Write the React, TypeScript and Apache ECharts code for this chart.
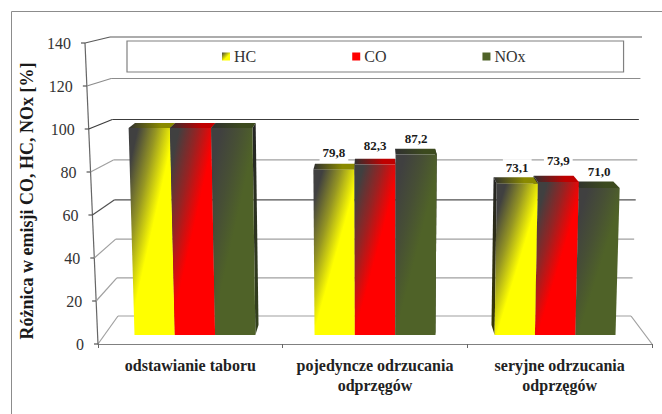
import React, { useEffect, useRef } from "react";
import * as echarts from "echarts";

const categories = ["odstawianie taboru", "pojedyncze odrzucania\nodprzęgów", "seryjne odrzucania\nodprzęgów"];
const seriesNames = ["HC", "CO", "NOx"];
const hcValues = [100, 79.8, 73.1];
const coValues = [100, 82.3, 73.9];
const noxValues = [100, 87.2, 71.0];
const yTicks = [0, 20, 40, 60, 80, 100, 120, 140];
const labelledCategories = [1, 2];

// styling and layout only
const faceColors = ["#ffff00", "#ff0000", "#4f6228"];
const midColors = ["#969623", "#962323", "#474f35"];
const topColors = ["#8a8a00", "#c00000", "#3c4a1e"];
const sideColors = ["#3a3a00", "#5a0000", "#34421c"];
const wallColors: Record<number, string> = { 0: "#a0a0a0", 20: "#a0a0a0", 40: "#a0a0a0", 60: "#505050", 80: "#a0a0a0", 100: "#3c3c3c", 120: "#8c8c8c", 140: "#5a5a5a" };
const labelLift = [[0, 0, 0], [17, 19, 16], [16, 21, 16]];
const font = "'Liberation Serif', 'Times New Roman', serif";

const gridLeft = 98, gridRight = 652, barW = 40.3;
const vc = (gridLeft + gridRight) / 2;

const barSeries = (i: number, values: number[]) => ({
  type: "custom",
  name: seriesNames[i],
  coordinateSystem: "cartesian2d",
  clip: false,
  data: values.map((v, c) => [c, v]),
  encode: { x: 0, y: 1 },
  renderItem: (_p: any, api: any) => {
    const c = api.value(0), v = api.value(1);
    const [cx, y0] = api.coord([c, 0]);
    const unit = api.size([0, 1])[1];
    const yF0 = y0 - 9, yFT = yF0 - v * unit * 0.963;
    const yB0 = y0 - 19, yBT = yB0 - v * unit * 0.94;
    const base = vc + (cx - vc) * 0.975 + (i - 1.5) * barW;
    const fx = (xb: number, y: number) => vc + (xb - vc) * (1 + 0.000118 * (yF0 - y));
    const bx = (x: number) => x + (vc - x) * 0.026;
    const l = base, r = base + barW;
    const lb = fx(l, yF0), rb = fx(r, yF0), lt = fx(l, yFT), rt = fx(r, yFT);
    // pixel-space diagonal gradient: dark at the top-left, full colour towards the right and bottom
    const a = 1 / (1.15 * barW), b = 1.0 / (yF0 - yFT);
    const n = a * a + b * b;
    const face = new echarts.graphic.LinearGradient(lt, yFT, lt + a / n, yFT + b / n, [
      { offset: 0, color: "#404040" }, { offset: 0.2, color: "#404040" },
      { offset: 0.6, color: midColors[i] }, { offset: 1, color: faceColors[i] },
    ], true);
    const top = new echarts.graphic.LinearGradient(0, 0, 1, 0, [
      { offset: 0, color: "#303030" }, { offset: 0.7, color: topColors[i] }, { offset: 1, color: topColors[i] },
    ]);
    const rank = c === 2 ? 2 - i : i;
    const z2 = 10 + rank * 2;
    const children: any[] = [];
    const sideOn = c === 2 ? "l" : "r";
    const sX = sideOn === "r" ? [rb, rt] : [lb, lt];
    children.push({
      type: "polygon", z2,
      shape: { points: [[sX[0], yF0], [sX[1], yFT], [bx(sX[1]), yBT], [bx(sX[0]), yB0]] },
      style: { fill: new echarts.graphic.LinearGradient(0, 0, 0, 1, [{ offset: 0, color: "#242424" }, { offset: 1, color: sideColors[i] }]) },
    });
    children.push({
      type: "polygon", z2,
      shape: { points: [[lt, yFT], [rt, yFT], [bx(rt), yBT], [bx(lt), yBT]] },
      style: { fill: top },
    });
    children.push({
      type: "polygon", z2: z2 + 1,
      shape: { points: [[lb, yF0], [rb, yF0], [rt, yFT], [lt, yFT]] },
      style: { fill: face },
    });
    if (labelledCategories.includes(c)) {
      children.push({
        type: "text", z2: 40,
        style: {
          text: v.toFixed(1).replace(".", ","),
          x: (lt + rt) / 2, y: yFT - labelLift[c][i],
          align: "center", verticalAlign: "middle",
          font: `bold 13px ${font}`, fill: "#1a1a1a",
          backgroundColor: "#fff", padding: [2, 3],
        },
      });
    }
    return { type: "group", children };
  },
});

const wallSeries = {
  type: "custom",
  silent: true,
  clip: false,
  coordinateSystem: "cartesian2d",
  data: yTicks.map((t) => [0, t]),
  encode: { x: 0, y: 1 },
  renderItem: (_p: any, api: any) => {
    const t = api.value(1);
    const y = api.coord([0, t])[1];
    const y0 = api.coord([0, 0])[1];
    const unit = api.size([0, 1])[1];
    const yW = y0 - 28 - (t * unit * (1.895 + 0.0007 * t)) / 2.15;
    const axisX = gridLeft - (t * 13) / 140;
    const wl = gridLeft + 20 - (t * 8) / 140;
    const wr = gridRight - 21 + (t * 11) / 140;
    const color = wallColors[t];
    const line = (x1: number, y1: number, x2: number, y2: number, c: string, w = 1.2) => ({
      type: "line", z2: 1, shape: { x1, y1, x2, y2 }, style: { stroke: c, lineWidth: w },
    });
    const children: any[] = [
      line(wl, yW, wr, yW, color),
      line(axisX, y, wl, yW, color),
      line(axisX - 4, y, axisX, y, "#555"),
      {
        type: "text", z2: 5,
        style: {
          text: String(t), x: axisX - 14, y, align: "right", verticalAlign: "middle",
          font: `16px ${font}`, fill: "#333",
        },
      },
    ];
    if (t === 0) {
      children.push(line(wr, yW, gridRight, y, "#a0a0a0"));
      children.push(line(gridLeft - 13, api.coord([0, 140])[1], gridLeft, y, "#666"));
    }
    return { type: "group", children };
  },
};

export default function App() {
  const ref = useRef<HTMLDivElement>(null);
  useEffect(() => {
    document.body.style.margin = "0";
    const chart = echarts.init(ref.current!, undefined, { renderer: "svg" });
    chart.setOption({
      animation: false,
      backgroundColor: "#fff",
      grid: { left: gridLeft, right: 662 - gridRight, top: 43, bottom: 70 },
      xAxis: {
        type: "category",
        data: categories,
        axisLine: { lineStyle: { color: "#808080", width: 1.2 } },
        axisTick: { show: true, length: 4, lineStyle: { color: "#666" } },
        axisLabel: { margin: 11, interval: 0, fontFamily: font, fontWeight: "bold", fontSize: 16, color: "#222", lineHeight: 20 },
      },
      yAxis: { type: "value", min: 0, max: 140, interval: 20, show: false },
      legend: {
        left: 127, top: 41,
        padding: [7.5, 98, 7.5, 95],
        itemWidth: 8, itemHeight: 8, itemGap: 96,
        borderColor: "#808080", borderWidth: 1.2,
        textStyle: { fontFamily: font, fontSize: 16, color: "#333", padding: [0, 0, 0, -1] },
        data: seriesNames.map((n, i) => ({
          name: n, icon: "rect",
          itemStyle: {
            color: i === 0
              ? new echarts.graphic.LinearGradient(0, 0, 0.6, 0.6, [{ offset: 0, color: "#404040" }, { offset: 1, color: "#ffff00" }])
              : faceColors[i],
          },
        })),
      },
      graphic: [
        { type: "line", silent: true, shape: { x1: 11.5, y1: 11.5, x2: 662, y2: 11.5 }, style: { stroke: "#8c8c8c", lineWidth: 1 } },
        { type: "line", silent: true, shape: { x1: 11.5, y1: 11.5, x2: 11.5, y2: 414 }, style: { stroke: "#8c8c8c", lineWidth: 1 } },
        {
          type: "text", x: 27, y: 201, rotation: Math.PI / 2,
          style: { text: "Różnica w emisji CO, HC, NOx [%]", align: "center", verticalAlign: "middle", font: `bold 18px ${font}`, fill: "#1a1a1a" },
        },
      ],
      series: [
        wallSeries,
        barSeries(0, hcValues),
        barSeries(1, coValues),
        barSeries(2, noxValues),
      ],
    });
    return () => chart.dispose();
  }, []);
  return <div ref={ref} style={{ position: "absolute", left: 0, top: 0, width: 662, height: 414 }} />;
}
